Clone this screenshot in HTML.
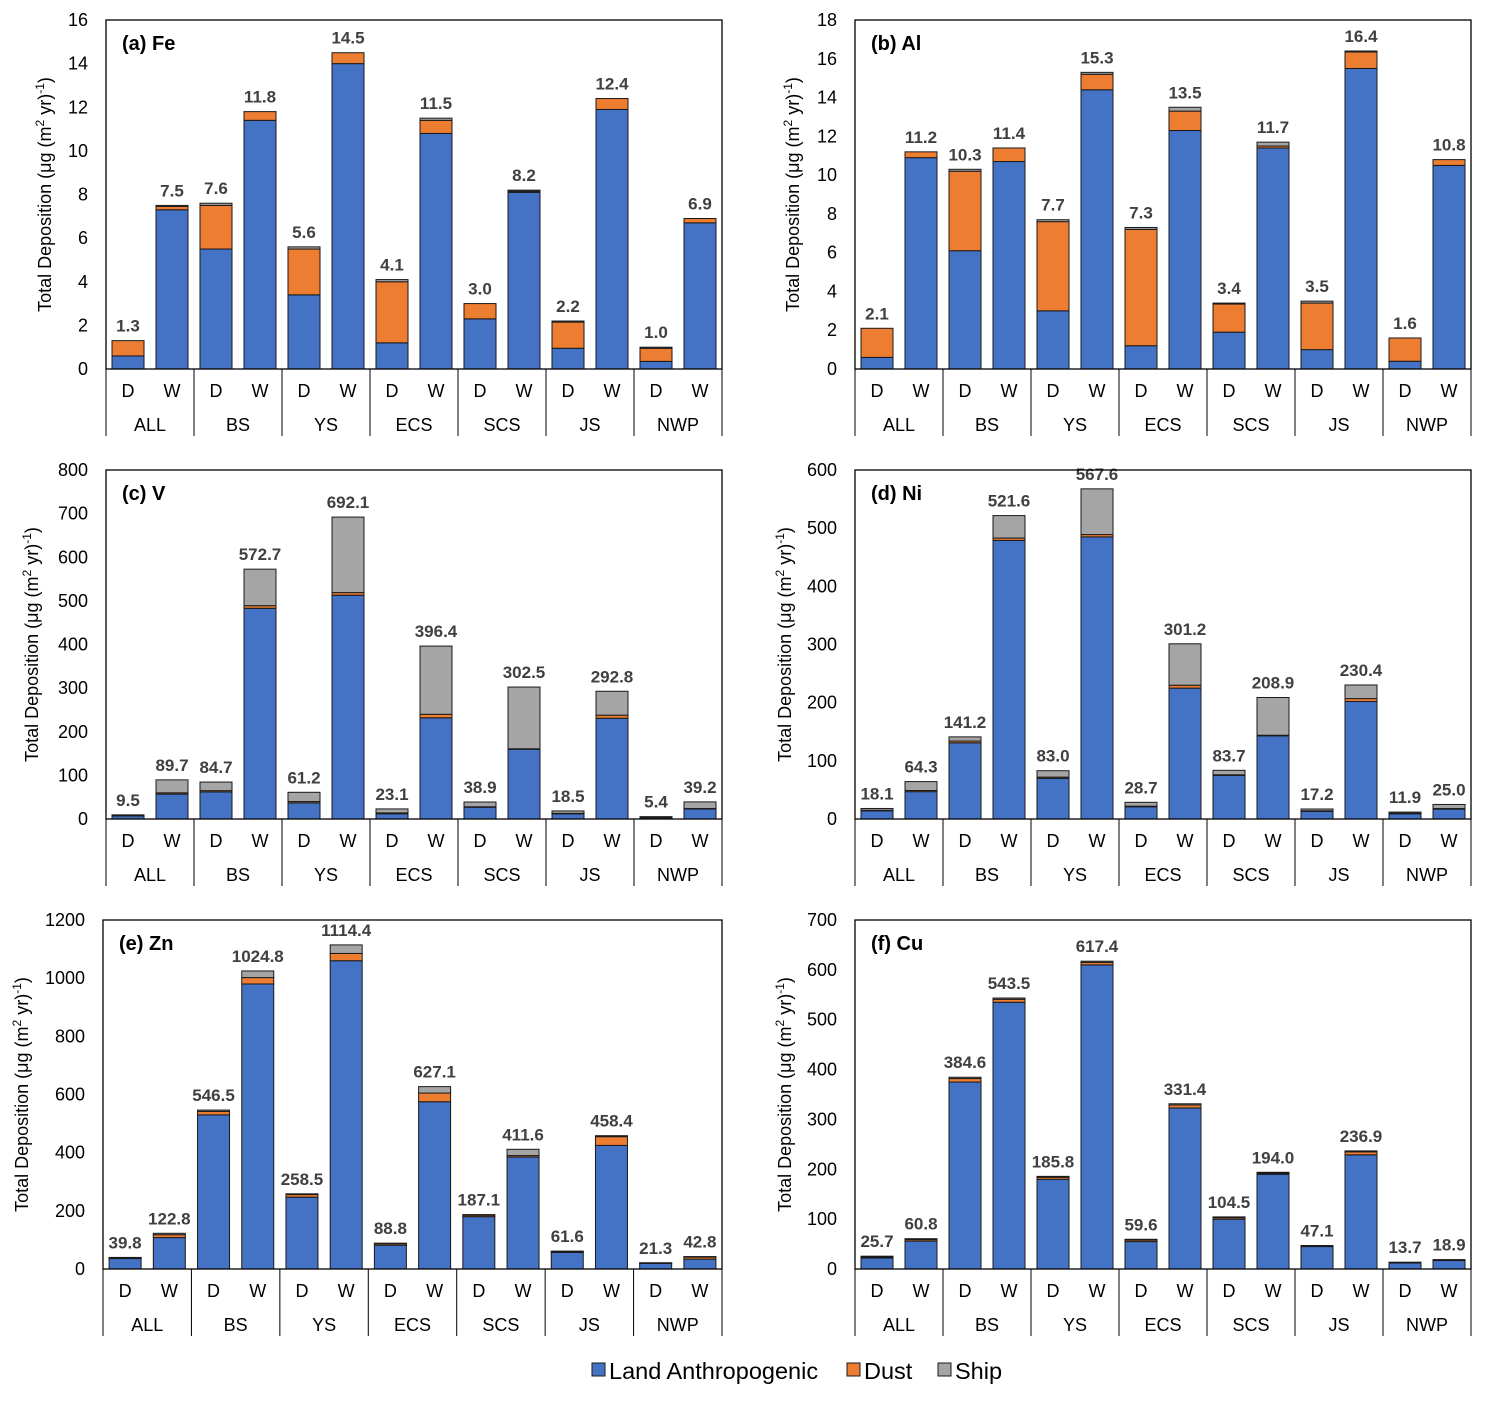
<!DOCTYPE html>
<html><head><meta charset="utf-8">
<style>
body{margin:0;background:#fff;}
svg text{font-family:"Liberation Sans",Arial,sans-serif;}
</style></head>
<body>
<svg id="chart" width="1487" height="1396" viewBox="0 0 1487 1396" xmlns="http://www.w3.org/2000/svg"></svg>
<script>
const groups = ["ALL","BS","YS","ECS","SCS","JS","NWP"];
const subs = ["D","W"];
const titles = ["(a) Fe","(b) Al","(c) V","(d) Ni","(e) Zn","(f) Cu"];
const maxes = [16,18,800,600,1200,700];
const steps = [2,2,100,100,200,100];
const feLand=[0.6,7.3,5.5,11.4,3.4,14.0,1.2,10.8,2.3,8.1,0.95,11.9,0.35,6.7];
const feDust=[0.7,0.15,2.0,0.4,2.1,0.5,2.8,0.6,0.7,0.05,1.2,0.5,0.6,0.2];
const feShip=[0.0,0.05,0.1,0.0,0.1,0.0,0.1,0.1,0.0,0.05,0.05,0.0,0.05,0.0];
const feTotal=[1.3,7.5,7.6,11.8,5.6,14.5,4.1,11.5,3.0,8.2,2.2,12.4,1.0,6.9];
const alLand=[0.6,10.9,6.1,10.7,3.0,14.4,1.2,12.3,1.9,11.4,1.0,15.5,0.4,10.5];
const alDust=[1.5,0.3,4.1,0.7,4.6,0.8,6.0,1.0,1.45,0.1,2.4,0.85,1.2,0.3];
const alShip=[0.0,0.0,0.1,0.0,0.1,0.1,0.1,0.2,0.05,0.2,0.1,0.05,0.0,0.0];
const alTotal=[2.1,11.2,10.3,11.4,7.7,15.3,7.3,13.5,3.4,11.7,3.5,16.4,1.6,10.8];
const vLand=[7,57,62,483,37,513,12,232,27,160,12,231,3,23];
const vDust=[0.5,3,3,6,3,6,2,8,1,1,1,7,0.4,1];
const vShip=[2,29.7,19.7,83.7,21.2,173.1,9.1,156.4,10.9,141.5,5.5,54.8,2,15.2];
const vTotal=[9.5,89.7,84.7,572.7,61.2,692.1,23.1,396.4,38.9,302.5,18.5,292.8,5.4,39.2];
const niLand=[14,47,131,479,70,485,21,225,75,143,13,202,9,17];
const niDust=[1,2,3,4,2,4,1,5,1,1,1,5,1,1];
const niShip=[3.1,15.3,7.2,38.6,11,78.6,6.7,71.2,7.7,64.9,3.2,23.4,1.9,7];
const niTotal=[18.1,64.3,141.2,521.6,83.0,567.6,28.7,301.2,83.7,208.9,17.2,230.4,11.9,25.0];
const znLand=[36,108,530,980,247,1060,82,575,180,385,57,425,19,34];
const znDust=[2,10,12,22,9,25,5,30,5,5,3,30,2,7];
const znShip=[1.8,4.8,4.5,22.8,2.5,29.4,1.8,22.1,2.1,21.6,1.6,3.4,0.3,1.8];
const znTotal=[39.8,122.8,546.5,1024.8,258.5,1114.4,88.8,627.1,187.1,411.6,61.6,458.4,21.3,42.8];
const cuLand=[22,56,375,535,180,610,55,323,100,190,45,229,12,17];
const cuDust=[2,3,7,6,4,5,3,6,3,2,1,6,1,1];
const cuShip=[1.7,1.8,2.6,2.5,1.8,2.4,1.6,2.4,1.5,2,1.1,1.9,0.7,0.9];
const cuTotal=[25.7,60.8,384.6,543.5,185.8,617.4,59.6,331.4,104.5,194.0,47.1,236.9,13.7,18.9];
const lands=[feLand,alLand,vLand,niLand,znLand,cuLand];
const dusts=[feDust,alDust,vDust,niDust,znDust,cuDust];
const ships=[feShip,alShip,vShip,niShip,znShip,cuShip];
const totals=[feTotal,alTotal,vTotal,niTotal,znTotal,cuTotal];

const NS="http://www.w3.org/2000/svg";
const svg=document.getElementById('chart');
function mk(tag,attrs,parent,txt){const e=document.createElementNS(NS,tag);for(const k in attrs)e.setAttribute(k,attrs[k]);if(txt!==undefined)e.textContent=txt;(parent||svg).appendChild(e);return e;}
const boxes=[[106,20],[855,20],[106,470],[855,470],[103,920],[855,920]];
const titleOff=[61,62,74,70,81,70];
const COL={land:"#4472C4",dust:"#ED7D31",ship:"#A5A5A5"};
for(let p=0;p<6;p++){
  const [x0,y0]=boxes[p]; const x1=(p%2==0)?722:1471; const y1=y0+349;
  const W=x1-x0, H=y1-y0;
  const g=mk('g',{});
  
  
  const ys=v=>y1-v/maxes[p]*H;
  for(let t=0;t<=maxes[p];t+=steps[p]){
    const tl=mk('text',{x:x0-18,y:ys(t)+6,'text-anchor':'end','font-size':18,fill:'#000'},g,String(t));
    
    
  }
  const yt=mk('text',{transform:`translate(${x0-titleOff[p]+6},${(y0+y1)/2}) rotate(-90)`,'text-anchor':'middle','font-size':18,fill:'#000'},g);
  
  
  yt.innerHTML='Total Deposition (μg (m<tspan font-size="12" dy="-7">2</tspan><tspan dy="7"> yr)</tspan><tspan font-size="12" dy="-7">-1</tspan><tspan dy="7">)</tspan>';
  const cw=W/14, bw=32;
  for(let i=0;i<14;i++){
    const cx=x0+cw*(i+0.5), bx=cx-bw/2;
    let base=0;
    const segs=[['land',lands[p][i]],['dust',dusts[p][i]],['ship',ships[p][i]]];
    for(const [k,v] of segs){
      if(v<=0)continue;
      const r=mk('rect',{x:bx,y:ys(base+v),width:bw,height:Math.max(0,ys(base)-ys(base+v)),fill:COL[k],stroke:'#1a1a1a','stroke-width':1},g);
      
      
      base+=v;
    }
    const vl=mk('text',{x:cx,y:ys(base)-9,'text-anchor':'middle','font-size':17,'font-weight':'bold',fill:'#404040'},g,totals[p][i].toFixed(1));
    
    
    const sl=mk('text',{x:cx,y:y1+28,'text-anchor':'middle','font-size':18,fill:'#000'},g,subs[i%2]);
    
    
  }
  for(let k=0;k<7;k++){
    const gl=mk('text',{x:x0+cw*(2*k+1),y:y1+62,'text-anchor':'middle','font-size':18,fill:'#000'},g,groups[k]);
    
    
  }
  for(let k=0;k<=7;k++){
    const xx=x0+cw*2*k;
    mk('line',{x1:xx,y1:y1,x2:xx,y2:y1+67,stroke:'#000','stroke-width':1},g);
  }
  const fr=mk('rect',{x:x0,y:y0,width:W,height:H,fill:'none',stroke:'#000','stroke-width':1.3},g);
  
  
  const tt=mk('text',{x:x0+16,y:y0+30,'font-size':20,'font-weight':'bold',fill:'#000'},g,titles[p]);
  
  
}
const leg=mk('g',{});


const items=[['land','Land Anthropogenic',592],['dust','Dust',847],['ship','Ship',938]];
for(const [k,l,x] of items){
  mk('rect',{x:x,y:1363,width:13,height:13,fill:COL[k],stroke:'#1a1a1a','stroke-width':1},leg);
  const t=mk('text',{x:x+17,y:1379,'font-size':23.5,fill:'#000'},leg,l);
  
  
}
</script>
</body></html>
